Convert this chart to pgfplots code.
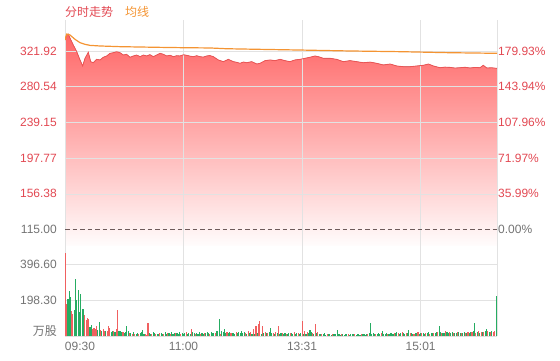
\documentclass[border=0pt]{standalone}
\usepackage{fontspec}
\setmainfont{Liberation Sans}
\newfontfamily\cjk{Noto Sans CJK SC}
\usepackage{pgfplots}
\pgfplotsset{compat=1.18}
\usepgfplotslibrary{fillbetween}
\usepackage{pgfplotstable}

\definecolor{pr}{RGB}{236,84,84}
\definecolor{fillred}{RGB}{255,102,102}
\definecolor{avg}{RGB}{244,148,50}
\definecolor{lab}{RGB}{226,72,82}
\definecolor{gr}{RGB}{115,115,115}
\definecolor{gridc}{RGB}{226,226,226}
\definecolor{dashc}{RGB}{110,90,90}
\definecolor{vred}{RGB}{240,96,96}
\definecolor{vgreen}{RGB}{38,172,98}

\pgfplotstableread{
u p
0 334.6
1.3 340.4
2.5 341.6
3.8 336.8
6.3 328.8
8.9 321.1
11.4 311.5
13.4 304.5
15.2 313.4
17.7 320.4
19.5 309.5
21.5 308.3
24 312.2
26.6 311.5
29.1 314.6
31.7 316.1
34.2 319.2
36.7 319.9
39.2 321.1
41.8 319.9
44.3 317.2
46.8 318.0
49.4 314.6
51.9 316.1
54.4 317.2
57 315.3
59.5 317.2
62 316.1
64.5 317.6
67.1 315.3
69.6 317.2
72.2 319.2
74.7 318.0
77.2 316.1
79.8 316.9
82.3 315.3
84.8 316.4
87.3 316.1
89.9 317.5
92.4 316.9
95 315.9
97.5 315.3
100 316.4
102.5 315.3
105 314.8
107.6 316.1
110 316.6
112.6 315.3
116.4 311.5
120.2 309.5
124 312.2
127.8 309.5
130.3 308.8
132.9 307.6
135.5 309.1
138 308.3
141.8 309.5
145.6 306.8
148.1 307.6
151.9 310.7
155.7 311.5
159.5 310.7
163.3 312.2
167 310.7
170.8 309.5
174.6 311.5
178.4 312.2
182.2 313.4
186 314.6
189.8 316.1
192.3 315.3
196.1 313.4
201.2 313.4
206.3 312.2
211.3 309.5
216.4 310.7
221.5 309.5
226.5 308.3
231.6 309.0
236.7 307.6
241.7 305.7
246.8 306.8
251.9 304.5
256.9 303.7
262 303.7
267 304.5
272.1 305.3
275.9 306.8
279.7 304.5
284.7 302.5
288.5 303.2
292.3 302.9
296.1 302.1
299.9 302.5
303.7 303.0
307.5 302.2
311.3 302.8
315.1 302.5
317.6 305.3
320.2 302.2
324 302.4
328 301.8
}\price

\pgfplotstableread{
u a
0 334.6
1.3 341.5
3.8 340.4
7.6 335.4
11.4 331.5
15.2 329.6
19 328.4
26.6 327.7
41.8 326.9
72.2 326.1
90 325.7
110 325.4
122.7 324.5
148 323.8
178.4 323.0
216.4 321.9
254.4 321.1
292.3 319.9
328 319.2
}\avgline

\pgfplotstableread{
u v
0.6 459
1.4 178
5 140
6 123
15 114
16 90
17 100
18 95
21 40
22 45
23 40
24 55
27 35
29 40
30 30
32 30
33 53
34 45
37 30
39 40
40 145
44 20
49 15
51 12
53 10
56 12
61 10
62 8
63 70
66 12
69 10
72 15
75 12
78 18
80 10
84 14
88 12
92 20
96 38
99 12
103 10
106 15
110 12
114 18
118 10
123 20
126 15
130 22
134 15
137 18
139 25
141 20
143 40
145 55
147 68
148 83
150 55
152 20
154 15
158 18
160 22
162 53
165 15
168 12
171 15
174 20
177 15
180 83
182 25
184 20
188 15
190 64
192 20
195 12
199 10
203 12
210 10
215 12
220 10
225 10
230 12
236 10
240 15
245 12
250 18
253 15
256 20
259 15
262 18
265 12
268 20
271 15
274 18
277 12
280 15
283 20
286 18
289 30
292 20
295 15
298 22
301 18
304 15
306 20
309 22
312 18
314 25
316 20
318 22
321 25
323 20
325 22
326 28
}\volred

\pgfplotstableread{
u v
2.3 206
3.2 248
4.1 215
7 142
8 316
9 200
10 252
11 132
12 233
13 150
14 150
19 50
20 60
25 35
26 77
28 25
31 25
35 20
36 25
38 20
41 25
42 30
43 20
45 15
46 20
47 55
48 25
50 15
52 20
54 12
55 18
57 15
58 20
59 35
60 12
64 15
65 12
67 20
68 15
70 12
71 10
73 15
74 12
76 20
77 12
79 15
81 20
82 12
83 15
85 18
86 12
87 20
89 15
90 10
91 18
93 12
94 15
95 10
97 20
98 15
100 18
101 12
102 20
104 15
105 12
107 18
108 20
109 15
111 22
112 18
113 15
115 25
116 30
117 92
119 25
120 20
121 38
122 18
124 15
125 20
127 15
128 18
129 12
131 15
132 20
133 15
134 25
135 15
136 20
138 12
140 15
142 12
144 10
146 15
149 12
151 15
153 18
155 20
156 45
157 15
159 12
161 15
163 12
164 18
166 10
167 15
169 12
170 15
172 18
173 12
175 10
176 15
178 12
179 15
181 10
183 12
185 15
186 35
187 20
189 12
191 15
193 10
194 12
196 10
197 15
198 8
200 10
201 12
202 8
204 10
205 12
207 35
208 10
209 8
211 10
212 8
213 10
214 12
216 8
217 10
218 12
219 10
221 8
222 10
223 12
224 8
226 10
227 12
228 8
229 10
231 15
232 72
233 12
234 15
235 10
237 12
238 15
239 10
241 25
242 12
243 10
244 15
246 12
247 18
248 15
249 12
251 15
252 20
254 12
255 15
257 18
258 12
260 15
261 35
263 15
264 12
266 15
267 18
269 12
270 15
272 18
273 12
275 15
276 20
278 15
279 18
281 15
282 20
284 53
285 20
287 15
288 18
290 20
291 15
293 18
294 20
296 15
297 18
299 20
300 15
302 18
303 20
305 15
307 18
308 20
310 25
311 73
313 20
315 18
317 22
319 25
320 40
322 20
324 25
327.3 218
}\volgreen

\begin{document}
\begin{tikzpicture}[x=1pt,y=1pt]
\path (0,0) rectangle (560,-360);
\node[anchor=west, inner sep=0pt, text=lab, font=\cjk\fontsize{12}{14}\selectfont] at (65,-12) {分时走势};
\node[anchor=west, inner sep=0pt, text=avg, font=\cjk\fontsize{12}{14}\selectfont] at (125,-12) {均线};

% price panel
\begin{axis}[
  at={(65pt,-20pt)}, anchor=north west, scale only axis,
  width=432pt, height=225pt,
  set layers,
  fill between/on layer=axis background,
  xmin=0, xmax=328, ymin=97.04, ymax=357.8,
  axis line style={draw=none}, major tick length=0pt,
  /pgf/number format/assume math mode=true,
  xtick={0,90,180,270,328}, xticklabels={}, xmajorgrids,
  ytick={156.38,197.77,239.15,280.54,321.92},
  yticklabels={156.38,197.77,239.15,280.54,321.92},
  ymajorgrids,
  grid style={gridc, line width=0.6pt},
  extra y ticks={115},
  extra y tick labels={\textcolor{gr}{115.00}},
  extra y tick style={grid=major, major grid style={dashc, line width=0.8pt, dash pattern=on 4.5pt off 3pt}},
  yticklabel style={anchor=east, inner sep=0pt, xshift=-8pt, text=lab, font=\fontsize{12}{14}\selectfont},
]
\addplot[draw=none, name path=base, forget plot] coordinates {(0,92) (328,92)};
\addplot[draw=none, name path=pline, forget plot] table[x=u,y=p] {\price};
\addplot[draw=none, top color=fillred, bottom color=white] fill between[of=pline and base];
\addplot[pr, line width=0.8pt, mark=none] table[x=u,y=p] {\price};
\addplot[avg, line width=1.2pt, mark=none] table[x=u,y=a] {\avgline};
\end{axis}

% right percentage labels
\begin{axis}[
  at={(65pt,-20pt)}, anchor=north west, scale only axis,
  width=432pt, height=225pt,
  xmin=0, xmax=328, ymin=97.04, ymax=357.8,
  hide x axis, axis line style={draw=none}, major tick length=0pt,
  /pgf/number format/assume math mode=true,
  yticklabel pos=right,
  ytick={115,156.38,197.77,239.15,280.54,321.92},
  yticklabels={\textcolor{gr}{0.00\%},35.99\%,71.97\%,107.96\%,143.94\%,179.93\%},
  yticklabel style={anchor=west, inner sep=0pt, xshift=1pt, text=lab, font=\fontsize{12}{14}\selectfont},
]
\addplot[draw=none] coordinates {(0,115)};
\end{axis}

% volume panel
\begin{axis}[
  at={(65pt,-245pt)}, anchor=north west, scale only axis,
  width=432pt, height=91pt,
  xmin=0, xmax=328, ymin=0, ymax=501.2,
  axis line style={draw=none}, major tick length=0pt,
  /pgf/number format/assume math mode=true,
  xtick={0,90,180,270},
  xticklabels={\makebox[0pt][l]{09:30},11:00,13:31,15:01},
  extra x ticks={328}, extra x tick labels={},
  xmajorgrids, ymajorgrids,
  grid style={gridc, line width=0.6pt},
  ytick={0,198.3,396.6},
  yticklabels={,198.30,396.60},
  extra y ticks={25},
  extra y tick labels={{\cjk 万股}},
  extra y tick style={grid=none},
  yticklabel style={anchor=east, inner sep=0pt, xshift=-8pt, text=gr, font=\fontsize{12}{14}\selectfont},
  xticklabel style={anchor=north, inner sep=0pt, yshift=-6pt, text=gr, font=\fontsize{12}{14}\selectfont},
]
\addplot[ycomb, vred, line width=1.1pt, mark=none] table[x=u,y=v] {\volred};
\addplot[ycomb, vgreen, line width=1.1pt, mark=none] table[x=u,y=v] {\volgreen};
\end{axis}
\end{tikzpicture}
\end{document}
